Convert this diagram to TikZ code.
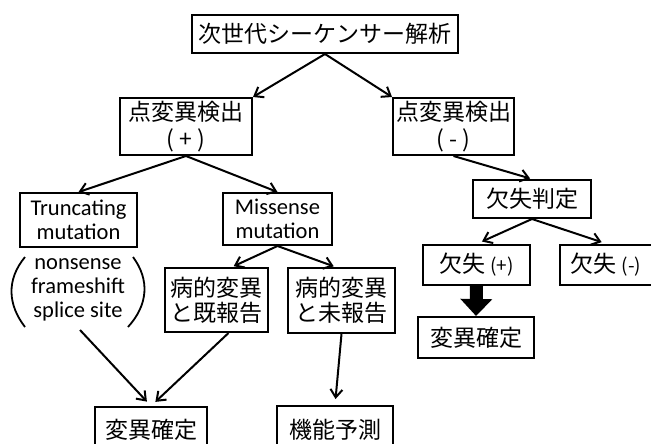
\documentclass[tikz,border=0pt]{standalone}
\usepackage{fontspec}
\setmainfont{Carlito}
\newfontfamily\jp{Noto Sans CJK JP}
\usetikzlibrary{arrows.meta}
\tikzset{
  box/.style={draw=black, line width=2pt, inner sep=0pt, align=center, font=\jp\fontsize{23}{26}\selectfont},
  ebox/.style={box, font=\fontsize{22.5}{24}\selectfont},
  arr/.style={line width=2pt, -{Straight Barb[length=8pt,width=12pt,line width=2pt]}},
  paren/.style={line width=1.8pt},
  bigarr/.style={line width=13pt, -{Triangle[length=17pt,width=31pt]}},
}
\begin{document}
\begin{tikzpicture}[x=1pt,y=-1pt]
\useasboundingbox (0,0) rectangle (651,444);
\clip (0,0) rectangle (651,444);
% nodes
\node[box, minimum width=266pt, minimum height=38pt] (top) at (325,34) {次世代シーケンサー解析};
\node[box, minimum width=132pt, minimum height=57pt, font=\jp\fontsize{23}{27}\selectfont] (pos) at (186,126.5) {点変異検出\\( + )};
\node[box, minimum width=121pt, minimum height=57pt, font=\jp\fontsize{23}{27}\selectfont] (neg) at (453.5,126.5) {点変異検出\\( - )};
\node[box, minimum width=118pt, minimum height=38pt] (hantei) at (532,199) {欠失判定};
\node[box, minimum width=107pt, minimum height=40pt] (delp) at (476.5,265) {欠失 {\fontsize{19}{20}\selectfont(+)}};
\node[box, minimum width=110pt, minimum height=40pt, anchor=west] (deln) at (559,265) {欠失 {\fontsize{19}{20}\selectfont(-)}\hspace*{18pt}};
\node[box, minimum width=116pt, minimum height=41pt] (kak2) at (476,337.5) {変異確定};
\node[ebox, minimum width=117pt, minimum height=54pt] (trunc) at (78.5,220) {Truncating\\mutation};
\node[ebox, minimum width=109pt, minimum height=52pt] (miss) at (277.5,219) {Missense\\mutation};
\node[inner sep=0pt, align=center, font=\fontsize{22.5}{24}\selectfont] (list) at (78,290) {nonsense\\frameshift\\splice site};
\node[box, minimum width=103pt, minimum height=64pt, font=\jp\fontsize{23}{25}\selectfont] (kisou) at (216.5,300) {病的変異\\と既報告};
\node[box, minimum width=107pt, minimum height=65pt, font=\jp\fontsize{23}{25}\selectfont] (misou) at (341.5,300.5) {病的変異\\と未報告};
\node[box, minimum width=112pt, minimum height=46pt] (kak1) at (151,430) {変異確定};
\node[box, minimum width=116pt, minimum height=47pt] (kinou) at (335,429.5) {機能予測};
% parentheses
\draw[paren] (25,257) .. controls (6,280) and (8,305) .. (25,327);
\draw[paren] (133,257) .. controls (150,280) and (148,305) .. (128,327);
\coordinate (tr) at (80,330);
% arrows
\draw[arr] (top.south) -- (pos.north east);
\draw[arr] (top.south) -- (neg.north west);
\draw[arr] (pos.south) -- (trunc.north);
\draw[arr] (pos.south) -- (miss.north);
\draw[arr, shorten >=2pt] (neg.south) -- (hantei.north);
\draw[arr, shorten >=6pt] (hantei.south) -- (delp.north);
\draw[arr, shorten >=6pt] (hantei.south) -- (deln.110);
\draw[bigarr] (delp.south) -- (kak2.north);
\draw[arr, shorten >=2pt] (miss.south) -- (kisou.65);
\draw[arr, shorten >=2pt] (miss.south) -- (misou.100);
\draw[arr, shorten >=6pt] (tr) -- (kak1.north);
\draw[arr, shorten >=6pt] (kisou.-70) -- (kak1.north);
\draw[arr, shorten >=6pt] (misou.south) -- (kinou.north);
\end{tikzpicture}
\end{document}
